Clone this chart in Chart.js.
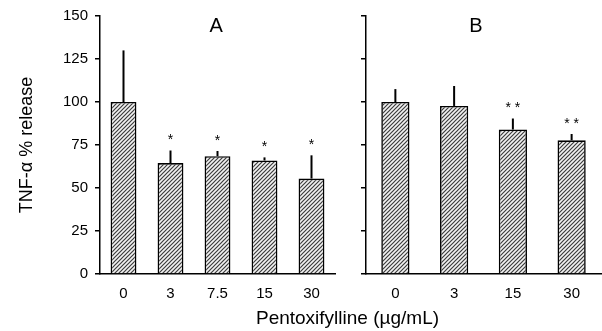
<!DOCTYPE html>
<html>
<head>
<meta charset="utf-8">
<script src="https://cdn.jsdelivr.net/npm/chart.js@4"></script>
<style>
  body { margin: 0; background: #fff; }
  .wrap { position: relative; width: 602px; height: 331px; font-family: "Liberation Sans", Arial, sans-serif; }
  #panelA { position: absolute; left: 0; top: 0; }
  #panelB { position: absolute; left: 340px; top: 0; }
  .xtitle { position: absolute; left: 0; width: 695px; top: 307px; text-align: center; font-size: 19px; color: #000; white-space: nowrap; }
</style>
</head>
<body>
<div class="wrap">
  <canvas id="panelA" width="340" height="331"></canvas>
  <canvas id="panelB" width="262" height="331"></canvas>
  <div class="xtitle">Pentoxifylline (µg/mL)</div>
</div>
<script>
// panel A: dose-response
const dosesA = ["0", "3", "7.5", "15", "30"];
const meansA = [100, 64.5, 68.5, 66, 55.5];
const sdA = [30, 7.3, 3, 1.8, 13.5];
const starsA = ["", "*", "*", "*", "*"];

// panel B
const dosesB = ["0", "3", "15", "30"];
const meansB = [100, 97.7, 84, 77.7];
const sdB = [7.5, 11.6, 6.4, 3.7];
const starsB = ["", "", "* *", "* *"];

const FONT = "Liberation Sans, Arial, sans-serif";

function makeHatch() {
  const c = document.createElement("canvas");
  c.width = 4;
  c.height = 4;
  const g = c.getContext("2d");
  g.fillStyle = "#f2f2f2";
  g.fillRect(0, 0, 4, 4);
  g.strokeStyle = "#3c3c3c";
  g.lineWidth = 1.2;
  g.beginPath();
  g.moveTo(0, 4); g.lineTo(4, 0);
  g.moveTo(-1, 1); g.lineTo(1, -1);
  g.moveTo(3, 5); g.lineTo(5, 3);
  g.stroke();
  return g.createPattern(c, "repeat");
}

// error bars (upper only), significance stars and the panel letter
function makeErrorPlugin(means, sds, stars, letter, letterFx) {
  return {
    id: "errorBars",
    afterDatasetsDraw(chart) {
      const { ctx, chartArea, scales: { y } } = chart;
      const meta = chart.getDatasetMeta(0);
      ctx.save();
      ctx.strokeStyle = "#000";
      ctx.lineWidth = 2;
      ctx.fillStyle = "#000";
      ctx.textAlign = "center";
      ctx.textBaseline = "middle";
      meta.data.forEach((bar, i) => {
        const top = y.getPixelForValue(means[i] + sds[i]);
        ctx.beginPath();
        ctx.moveTo(bar.x, bar.y);
        ctx.lineTo(bar.x, top);
        ctx.stroke();
        if (stars[i]) {
          ctx.font = "14px " + FONT;
          ctx.fillText(stars[i], bar.x, top - 10);
        }
      });
      ctx.font = "20px " + FONT;
      ctx.fillText(letter, chartArea.left + chartArea.width * letterFx, chartArea.top + 10);
      ctx.restore();
    }
  };
}

function makePanel(id, labels, means, sds, stars, letter, letterFx, showY, yWidth, padRight, barPct) {
  const hatch = makeHatch();
  return new Chart(document.getElementById(id), {
    type: "bar",
    data: {
      labels: labels,
      datasets: [{
        data: means,
        backgroundColor: hatch,
        borderColor: "#000",
        borderWidth: 1.6,
        barPercentage: barPct,
        categoryPercentage: 1
      }]
    },
    options: {
      responsive: false,
      animation: false,
      devicePixelRatio: 1,
      layout: { padding: { top: 16, right: padRight, left: 0, bottom: 0 } },
      plugins: { legend: { display: false }, tooltip: { enabled: false } },
      scales: {
        x: {
          ticks: { color: "#000", font: { size: 15, family: FONT }, padding: 11 },
          grid: { display: false, drawTicks: false },
          border: { color: "#000", width: 1.5 },
          afterFit(s) { s.height = 57; }
        },
        y: {
          min: 0,
          max: 150,
          ticks: { display: showY, stepSize: 25, color: "#000", font: { size: 15, family: FONT }, padding: 7 },
          grid: { drawOnChartArea: false, drawTicks: true, tickLength: 5, color: "#000", lineWidth: 1.5 },
          border: { color: "#000", width: 1.5 },
          title: {
            display: showY,
            text: "TNF-α % release",
            color: "#000",
            font: { size: 18, family: FONT },
            padding: { top: 16, bottom: 0 }
          },
          afterFit(s) { s.width = yWidth; }
        }
      }
    },
    plugins: [makeErrorPlugin(means, sds, stars, letter, letterFx)]
  });
}

makePanel("panelA", dosesA, meansA, sdA, starsA, "A", 0.494, true, 100, 5, 0.55);
makePanel("panelB", dosesB, meansB, sdB, starsB, "B", 0.468, false, 26, 1, 0.48);
</script>
</body>
</html>
